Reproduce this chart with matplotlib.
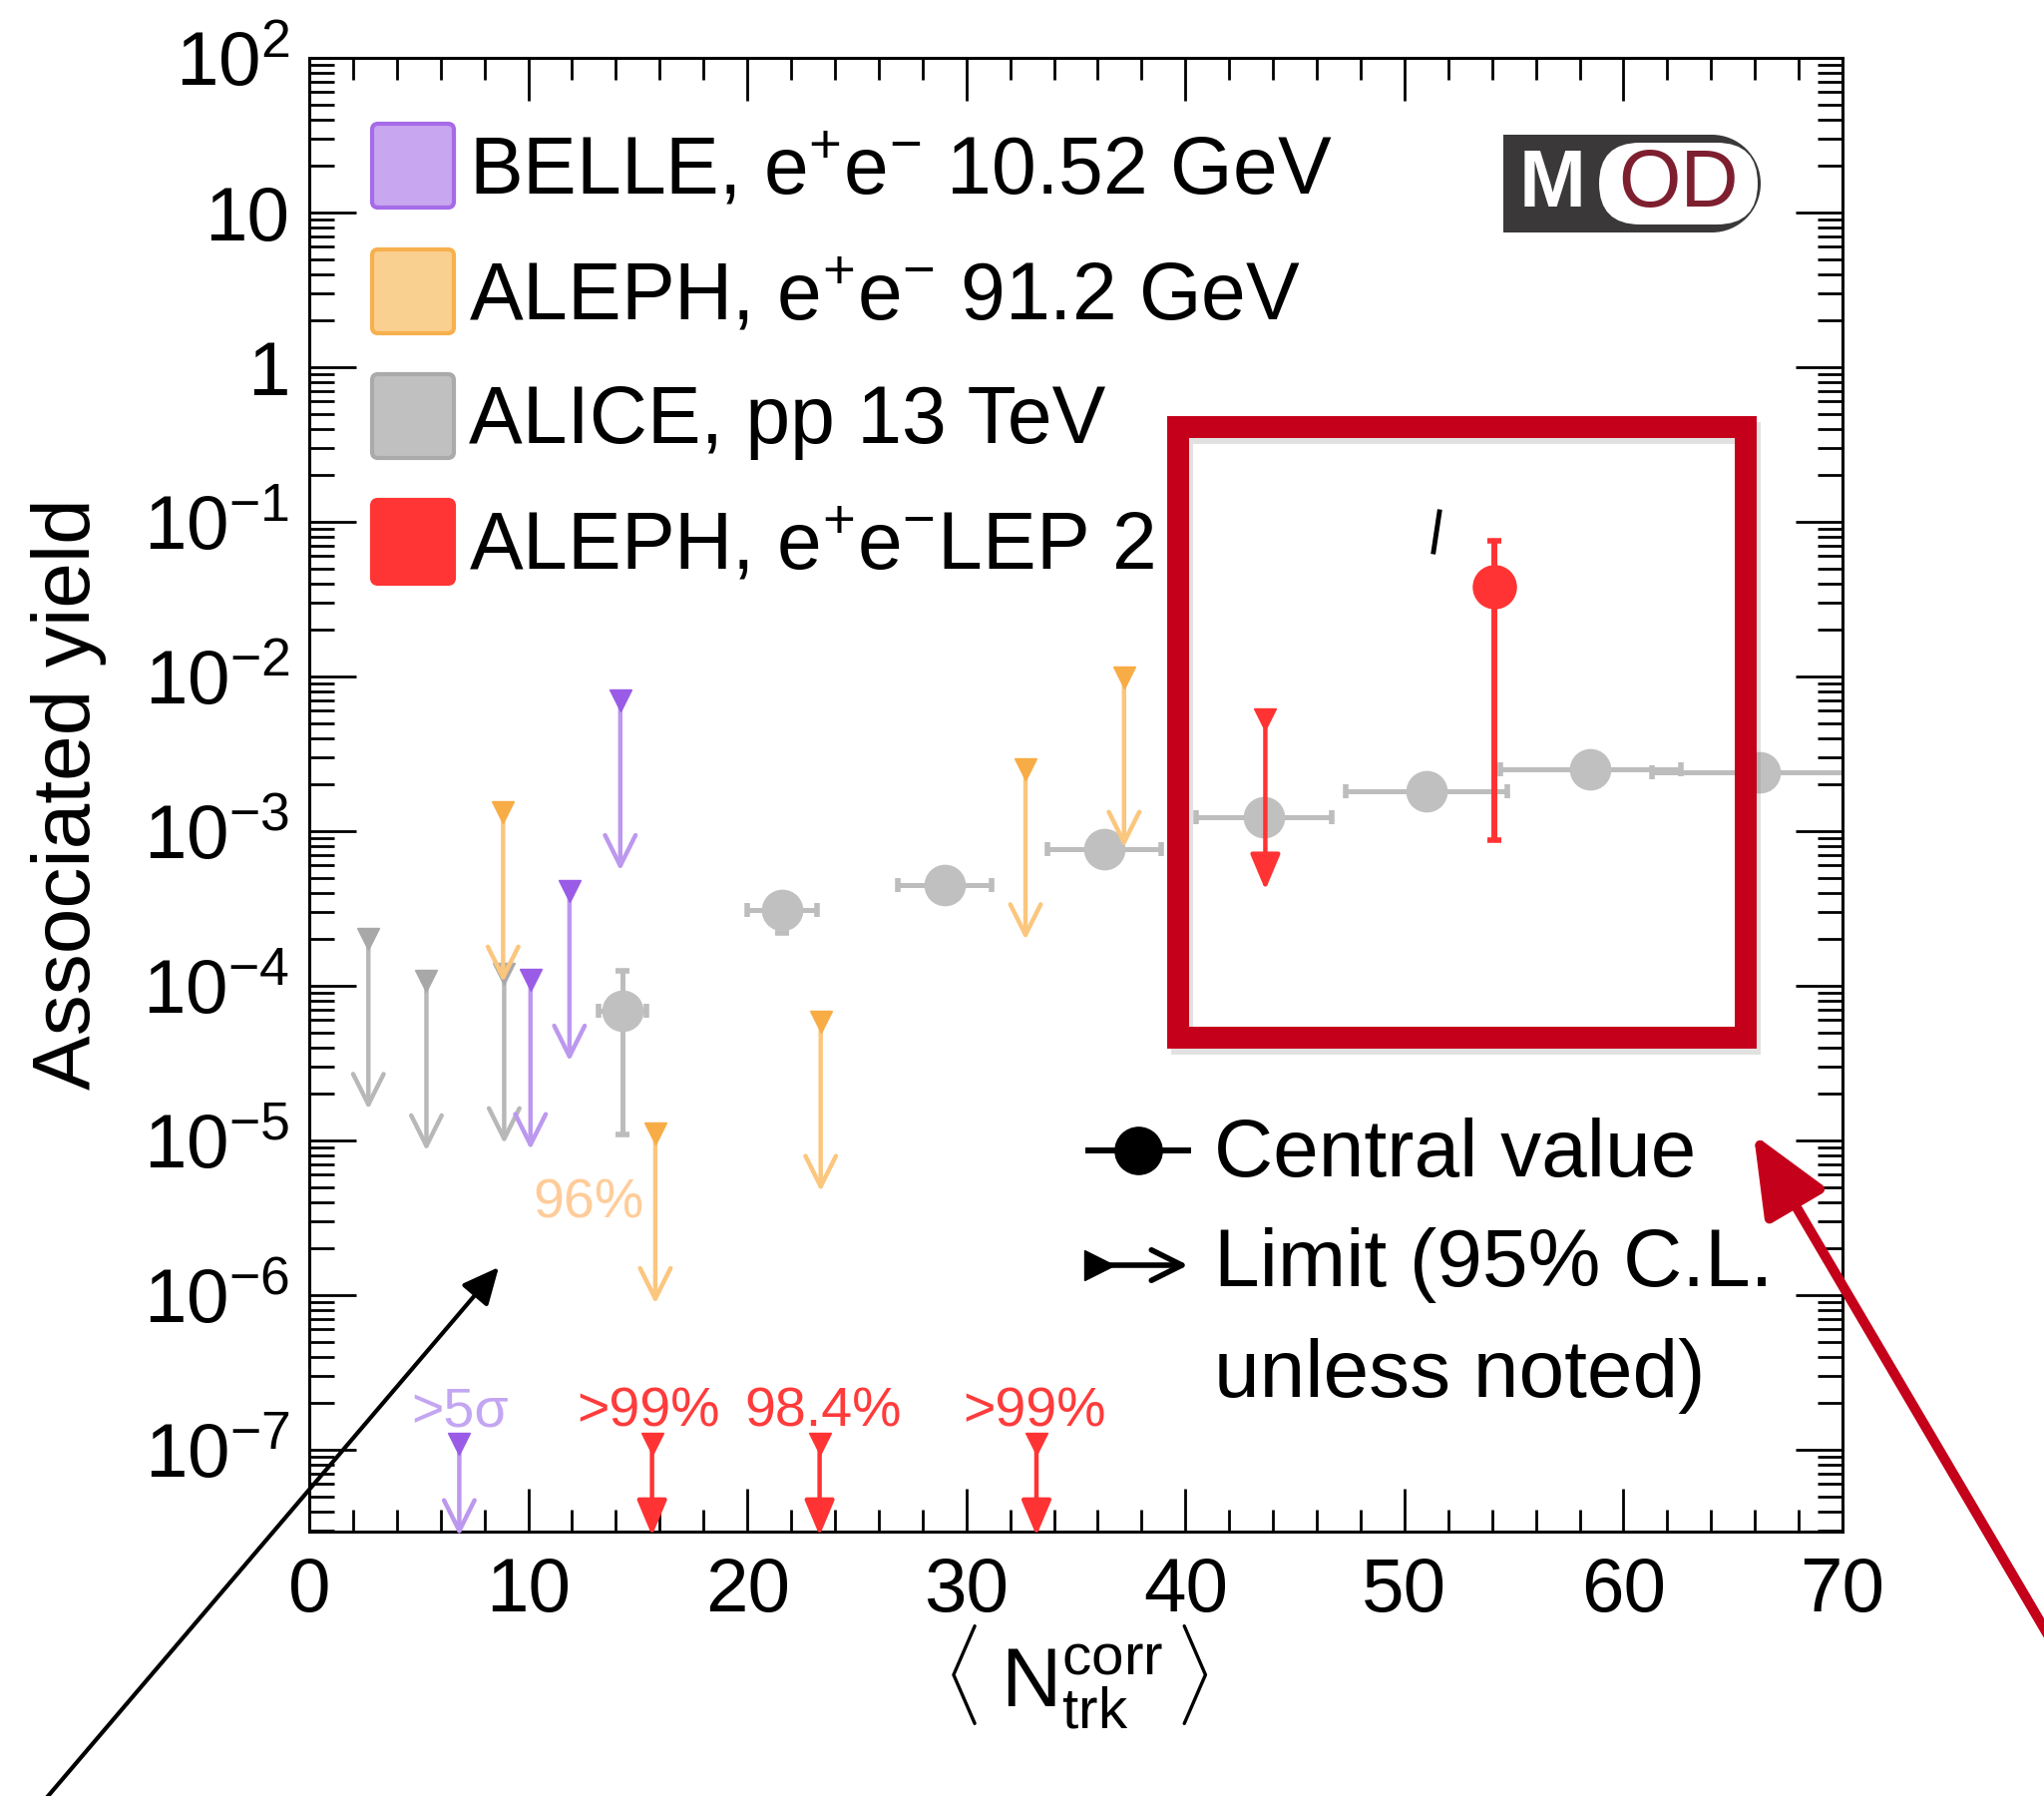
import numpy as np
import matplotlib
matplotlib.use("Agg")
import matplotlib.pyplot as plt
from matplotlib.ticker import LogLocator, MultipleLocator, NullFormatter, FuncFormatter
from matplotlib.patches import Rectangle, Circle, FancyBboxPatch, FancyArrowPatch

plt.rcParams['font.family'] = ['Liberation Sans', 'DejaVu Sans']
plt.rcParams['mathtext.fontset'] = 'custom'
plt.rcParams['mathtext.rm'] = 'Liberation Sans'
plt.rcParams['mathtext.it'] = 'Liberation Sans:italic'
plt.rcParams['mathtext.bf'] = 'Liberation Sans:bold'
plt.rcParams['mathtext.sf'] = 'Liberation Sans'

# ALICE pp 13 TeV central values
alice_x = [14.3, 21.6, 29.0, 36.3, 43.6, 51.0, 58.5, 66.2]
alice_xerr = [1.1, 1.6, 2.15, 2.6, 3.1, 3.7, 4.1, 4.9]
alice_y = [6.9e-5, 3.1e-4, 4.5e-4, 7.7e-4, 1.24e-3, 1.8e-3, 2.5e-3, 2.4e-3]
alice_ylo = [1.1e-5, 2.2e-4, 4.5e-4, 7.7e-4, 1.24e-3, 1.8e-3, 2.5e-3, 2.4e-3]
alice_yhi = [1.25e-4, 3.6e-4, 4.5e-4, 7.7e-4, 1.24e-3, 1.8e-3, 2.5e-3, 2.4e-3]

# upper limits
alice_lim_x = [2.7, 5.35, 8.9]
alice_lim_y = [2.0e-4, 1.08e-4, 1.2e-4]
belle_lim_x = [6.85, 10.1, 11.88, 14.2]
belle_lim_y = [1.1e-7, 1.1e-4, 4.1e-4, 7.0e-3]
aleph_lim_x = [8.85, 15.8, 23.35, 32.7, 37.2]
aleph_lim_y = [1.33e-3, 1.11e-5, 5.9e-5, 2.5e-3, 9.9e-3]
lep2_lim_x = [15.65, 23.3, 33.2, 43.65]
lep2_lim_y = [1.1e-7, 1.1e-7, 1.1e-7, 5.25e-3]

# ALEPH LEP2 central value
lep2_x = [54.1]
lep2_y = [3.8e-2]
lep2_ylo = [8.7e-4]
lep2_yhi = [7.5e-2]

# confidence notes
note_text = ['>5σ', '>99%', '98.4%', '>99%', '96%']
note_x = [6.9, 15.5, 23.45, 33.1, 12.75]
note_y = [1.75e-7, 1.75e-7, 1.75e-7, 1.75e-7, 3.9e-6]
note_col = ['#C3A6F2', '#FF3B3B', '#FF3B3B', '#FF3B3B', '#FFCC99']

legend_labels = ['BELLE, e$^{+}$e$^{-}$ 10.52 GeV', 'ALEPH, e$^{+}$e$^{-}$ 91.2 GeV',
                 'ALICE, pp 13 TeV', 'ALEPH, e$^{+}$e$^{-}$LEP 2']
legend_face = ['#C8A6F0', '#FAD090', '#C0C0C0', '#FF3535']
legend_edge = ['#A56BE8', '#F7B04E', '#AAAAAA', '#FF3535']

Y_MIN, Y_MAX = 2.96e-8, 100
DROP = 12.6

fig = plt.figure(figsize=(20.49, 18.0), dpi=100)
ax = fig.add_axes([310 / 2049, 1 - 1535 / 1800, 1537 / 2049, 1477 / 1800])
ax.set_xlim(0, 70)
ax.set_yscale('log')
ax.set_ylim(Y_MIN, Y_MAX)

ax.xaxis.set_major_locator(MultipleLocator(10))
ax.xaxis.set_minor_locator(MultipleLocator(2))
ax.yaxis.set_major_locator(LogLocator(base=10, numticks=100))
ax.yaxis.set_minor_locator(LogLocator(base=10, subs=np.arange(2, 10), numticks=100))
ax.yaxis.set_minor_formatter(NullFormatter())


def ylab(v, pos):
    e = int(round(np.log10(v)))
    if e == 1:
        return '10'
    if e == 0:
        return '1'
    return r'$10^{%d}$' % e


ax.yaxis.set_major_formatter(FuncFormatter(ylab))
ax.tick_params(which='both', direction='in', top=True, right=True, width=2, colors='black')
ax.tick_params(axis='x', which='major', length=31, labelsize=55, pad=18)
ax.tick_params(axis='x', which='minor', length=16)
ax.tick_params(axis='y', which='major', length=34, labelsize=55, pad=14)
ax.tick_params(axis='y', which='minor', length=18)
for s in ax.spines.values():
    s.set_linewidth(2.2)

# ALICE points
a_y = np.array(alice_y)
ax.errorbar(alice_x, alice_y, xerr=alice_xerr,
            yerr=[a_y - np.array(alice_ylo), np.array(alice_yhi) - a_y],
            fmt='o', ms=29, color='#C0C0C0', ecolor='#BDBDBD', elinewidth=3.6,
            capsize=5, capthick=4, zorder=2)


def draw_limits(xs, ys, color, tri, style='->', hw=0.5, z=3):
    for x, top in zip(xs, ys):
        tip = max(top / DROP, Y_MIN * 0.94)
        arr = FancyArrowPatch((x, top), (x, tip),
                              arrowstyle=style + ',head_length=1.0,head_width=%g' % hw,
                              color=color, lw=3.2, shrinkA=0, shrinkB=0,
                              mutation_scale=22, zorder=z, clip_on=False)
        ax.add_patch(arr)
        ax.plot([x], [top], marker='v', ms=16, color=tri, mec=tri, clip_on=False, zorder=z)


draw_limits(alice_lim_x, alice_lim_y, '#B8B8B8', '#A8A8A8')
draw_limits(belle_lim_x, belle_lim_y, '#BC98EE', '#9A5CE6')
draw_limits(aleph_lim_x, aleph_lim_y, '#FBC67E', '#F8AC45')
draw_limits(lep2_lim_x, lep2_lim_y, '#FF3333', '#FF3333', style='-|>', hw=0.42, z=4)

l_y = np.array(lep2_y)
ax.errorbar(lep2_x, lep2_y, yerr=[l_y - np.array(lep2_ylo), np.array(lep2_yhi) - l_y],
            fmt='o', ms=31, color='#FF3333', elinewidth=4.3, capsize=5, capthick=4, zorder=5)

for t, x, y, c in zip(note_text, note_x, note_y, note_col):
    ax.text(x, y, t, color=c, fontsize=40, ha='center', va='center', zorder=6)

ax.set_xlabel(r'$\langle\;\mathrm{N}_{\mathrm{trk}}^{\mathrm{corr}}\,\rangle$', fontsize=60)
ax.xaxis.set_label_coords(0.5, -0.062)
fig.text(69 / 2049, 1 - 796 / 1800, 'Associated yield', rotation=90, fontsize=59,
         ha='center', va='center')

# overlay in pixel coordinates for legend, logo and annotations
ov = fig.add_axes([0, 0, 1, 1])
ov.set_xlim(0, 2049)
ov.set_ylim(1800, 0)
ov.axis('off')
ov.set_zorder(10)

row_y = [166, 292, 417, 543]
for lab, fc, ec, ry in zip(legend_labels, legend_face, legend_edge, row_y):
    ov.add_patch(FancyBboxPatch((373, ry - 42), 82, 84, boxstyle='round,pad=0,rounding_size=6',
                                fc=fc, ec=ec, lw=3))
    ov.text(470, ry + 27, lab, fontsize=58, ha='left', va='baseline')

# central value / limit legend
ov.plot([1091, 1191], [1153, 1153], color='black', lw=4.3)
ov.plot([1141], [1153], marker='o', ms=34, color='black')
ov.text(1217, 1179, 'Central value', fontsize=59, va='baseline')
ov.add_patch(FancyArrowPatch((1095, 1268), (1191, 1268),
                             arrowstyle='->,head_length=1.0,head_width=0.5', color='black',
                             lw=4, shrinkA=0, shrinkB=0, mutation_scale=22))
ov.plot([1102], [1268], marker='>', ms=22, color='black')
ov.text(1217, 1289, 'Limit (95% C.L.', fontsize=59, va='baseline')
ov.text(1217, 1400, 'unless noted)', fontsize=59, va='baseline')

# MOD logo
ov.add_patch(Rectangle((1507, 135), 209, 98, fc='#3A3838', ec='none'))
ov.add_patch(Circle((1716, 184), 49, fc='#3A3838', ec='none'))
ov.add_patch(FancyBboxPatch((1603, 143), 159, 82, boxstyle='round,pad=0,rounding_size=41',
                            fc='white', ec='none'))
ov.text(1556, 186, 'M', color='white', fontsize=58, fontweight='bold', ha='center', va='center')
ov.text(1683, 186, 'OD', color='#7E1F30', fontsize=58, ha='center', va='center')

# stray mark
ov.plot([1443, 1437], [513, 553], color='black', lw=3.5)

# highlight box
ov.add_patch(Rectangle((1185, 434), 569, 612, fill=False, ec='#888888', lw=15.8, alpha=0.25))
ov.add_patch(Rectangle((1180.5, 428), 569.5, 612, fill=False, ec='#C4001A', lw=15.8,
                       joinstyle='miter'))

# pointer arrows
ov.add_patch(FancyArrowPatch((38, 1812), (500, 1270),
                             arrowstyle='-|>,head_length=0.75,head_width=0.35', color='black',
                             lw=3, shrinkA=0, shrinkB=0, mutation_scale=30, clip_on=False))
ov.add_patch(FancyArrowPatch((2075, 1676), (1758, 1137),
                             arrowstyle='-|>,head_length=0.7,head_width=0.3', color='#C4001A',
                             lw=7.2, shrinkA=0, shrinkB=0, mutation_scale=70, clip_on=False))

fig.savefig('out.png', dpi=100, facecolor='white')
